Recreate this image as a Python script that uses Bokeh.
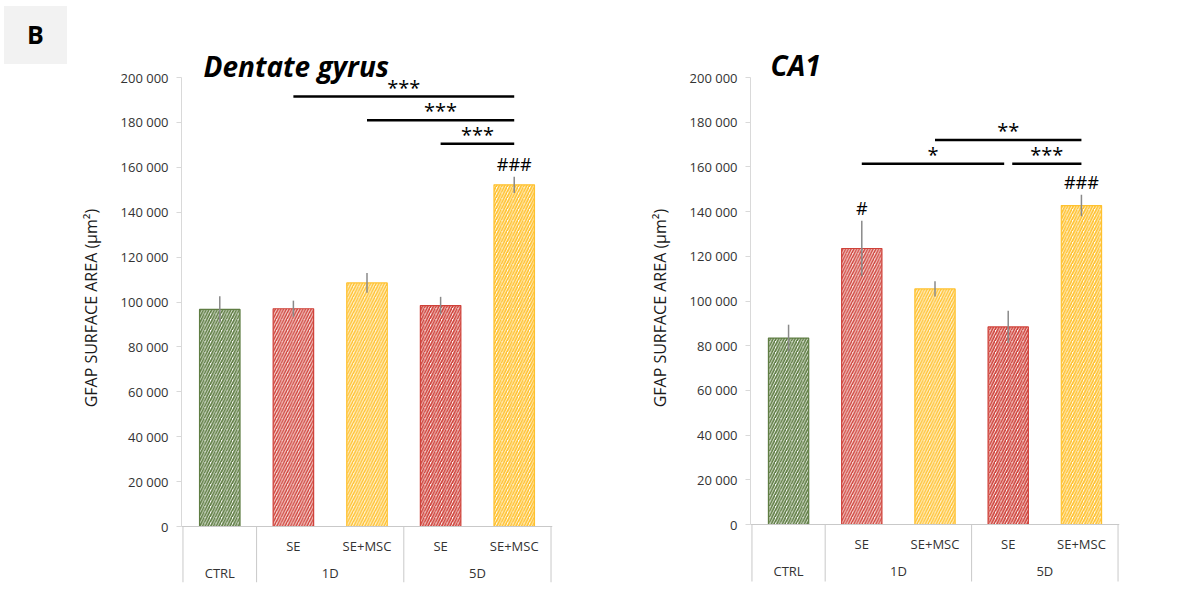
from bokeh.plotting import figure
from bokeh.layouts import row
from bokeh.models import Range1d, FixedTicker, Span, Label, ColumnDataSource, Div
from bokeh.core.properties import value
from bokeh.embed import file_html
from bokeh.resources import INLINE

# ---------------- data ----------------
GROUPS = ["CTRL", "1D", "1D", "5D", "5D"]
TREATMENTS = ["", "SE", "SE+MSC", "SE", "SE+MSC"]
Y_TICKS = [0, 20000, 40000, 60000, 80000, 100000, 120000, 140000, 160000, 180000, 200000]
Y_LABEL = "GFAP SURFACE AREA (µm²)"

DG_MEAN = [96700, 97000, 108500, 98400, 152200]
DG_ERR = [5900, 3600, 4400, 3900, 3600]
DG_HASH = ["", "", "", "", "###"]
DG_SIG_FROM = [1, 2, 3]
DG_SIG_TO = [4, 4, 4]
DG_SIG_TEXT = ["***", "***", "***"]
DG_SIG_LEVEL = [191500, 181000, 170500]

CA1_MEAN = [83400, 123500, 105400, 88400, 142700]
CA1_ERR = [6000, 12400, 3400, 7200, 4800]
CA1_HASH = ["", "#", "", "", "###"]
CA1_SIG_FROM = [2, 1, 3]
CA1_SIG_TO = [4, 3, 4]
CA1_SIG_TEXT = ["**", "*", "***"]
CA1_SIG_LEVEL = [172000, 161400, 161400]

# ---------------- style / layout ----------------
FONT = "Open Sans"
COLORS = {"CTRL": "#5f7d43", "SE": "#cf4139", "SE+MSC": "#ffc12e"}
TINTS = {"CTRL": "#eef2ea", "SE": "#f6d9d6", "SE+MSC": "#fff2d2"}
TABLE = "#c9c9c9"
AXIS = "#d9d9d9"
YMAX = 200000
ORIGIN = 1          # page pixel where the layout starts
FRAME_BOTTOM = 583
HEIGHT = 592
XLO, XHI = -0.02, 5.02
B_WIDTH = 68
LABEL_SHIFT = "\u00a0" * 8   # moves the rotated axis label down to the axis centre

LEFT = dict(canvas_left=ORIGIN + B_WIDTH - 1, width=600 - (ORIGIN + B_WIDTH - 1), axis_px=182,
            ppu_x=73.6, zero_px=527, top_px=78, table_bottom_px=583, title_px=(204, 66.7))
RIGHT = dict(canvas_left=600, width=590, axis_px=751, ppu_x=73.2, zero_px=525, top_px=78,
             table_bottom_px=582, title_px=(771, 65.7))


def panel(title, mean, err, hashes, sig_from, sig_to, sig_text, sig_level, g):
    fw = round((XHI - XLO) * g["ppu_x"])
    ppx = fw / (XHI - XLO)
    ppy = (g["zero_px"] - g["top_px"]) / YMAX
    y_hi = YMAX + (g["top_px"] - ORIGIN) / ppy
    y_lo = -(FRAME_BOTTOM - g["zero_px"]) / ppy

    def X(px):
        return XLO + (px - g["axis_px"]) / ppx

    def Y(py):
        return (g["zero_px"] - py) / ppy

    mbl = g["axis_px"] - g["canvas_left"]
    p = figure(width=g["width"], height=HEIGHT,
               x_range=Range1d(XLO, XHI), y_range=Range1d(y_lo, y_hi),
               x_axis_location=None, output_backend="svg", toolbar_location=None,
               min_border_left=mbl, min_border_right=g["width"] - mbl - fw,
               min_border_top=0, min_border_bottom=HEIGHT - (FRAME_BOTTOM - ORIGIN),
               margin=0)
    p.outline_line_color = None
    p.grid.visible = False
    p.background_fill_color = "white"
    p.border_fill_color = "white"

    ax = p.yaxis[0]
    ax.bounds = (0, YMAX)
    ax.ticker = FixedTicker(ticks=Y_TICKS)
    ax.major_label_overrides = {t: f"{t:,}".replace(",", " ") for t in Y_TICKS}
    ax.minor_tick_line_color = None
    ax.axis_line_color = AXIS
    ax.major_tick_line_color = AXIS
    ax.major_tick_out = 5
    ax.major_tick_in = 0
    ax.major_label_text_font = FONT
    ax.major_label_text_font_size = "13px"
    ax.major_label_text_color = "#333333"
    ax.major_label_standoff = 8
    ax.axis_label = Y_LABEL + LABEL_SHIFT
    ax.axis_label_text_font = FONT
    ax.axis_label_text_font_size = "16px"
    ax.axis_label_text_font_style = "normal"
    ax.axis_label_text_color = "#1a1a1a"
    ax.axis_label_standoff = 16

    n = len(mean)
    xs = [i + 0.5 for i in range(n)]
    cats = [t if t else grp for grp, t in zip(GROUPS, TREATMENTS)]
    early = [grp == "1D" for grp in GROUPS]
    src = ColumnDataSource(dict(
        x=xs, top=mean,
        color=[COLORS[c] for c in cats],
        fill=[TINTS[c] if e else "white" for c, e in zip(cats, early)],
        weight=[1.4 if e else 1.75 for e in early],
    ))
    p.vbar(x="x", top="top", bottom=0, width=0.55, source=src,
           fill_color="fill", line_color="color", line_width=1.2,
           hatch_pattern="right_diagonal_line", hatch_color="color",
           hatch_weight="weight", hatch_scale=5.5)

    # error bars
    p.segment(x0=xs, x1=xs, y0=[m - e for m, e in zip(mean, err)],
              y1=[m + e for m, e in zip(mean, err)],
              line_color="#8a8a8a", line_width=1.5)

    # hash marks
    hx = [x for x, h in zip(xs, hashes) if h]
    hy = [m + e + 12.5 / ppy for m, e, h in zip(mean, err, hashes) if h]
    ht = [h for h in hashes if h]
    p.text(x=hx, y=hy, text=ht, text_align="center", text_baseline="alphabetic",
           text_font=value(FONT), text_font_size="18px", text_color="black")

    # significance lines
    x0s, x1s = [], []
    for a, b, lv in zip(sig_from, sig_to, sig_level):
        start, end = xs[a], xs[b]
        for a2, b2, lv2 in zip(sig_from, sig_to, sig_level):
            if lv2 == lv and (a2, b2) != (a, b):
                if b2 == a:
                    start += 0.055
                if a2 == b:
                    end -= 0.055
        x0s.append(start)
        x1s.append(end)
    p.segment(x0=x0s, x1=x1s, y0=sig_level, y1=sig_level, line_color="black", line_width=2.5)
    p.text(x=[(a + b) / 2 for a, b in zip(x0s, x1s)], y=[lv + 9.5 / ppy for lv in sig_level],
           text=sig_text, text_align="center", text_baseline="alphabetic",
           text_font=value(FONT), text_font_size="20px", text_color="black")

    # category table below the axis
    p.add_layout(Span(location=0, dimension="width", line_color=TABLE, line_width=1))
    bounds = [0] + [i for i in range(1, n) if GROUPS[i] != GROUPS[i - 1]] + [n]
    bx = [min(max(b, XLO + 0.5 / ppx), XHI - 0.5 / ppx) for b in bounds]
    tb = Y(g["table_bottom_px"])
    p.segment(x0=bx, x1=bx, y0=[0] * len(bx), y1=[tb] * len(bx), line_color=TABLE, line_width=1)

    sub_x = [x for x, t in zip(xs, TREATMENTS) if t]
    sub_t = [t for t in TREATMENTS if t]
    p.text(x=sub_x, y=[Y(g["zero_px"] + 19)] * len(sub_x), text=sub_t,
           text_align="center", text_baseline="middle",
           text_font=value(FONT), text_font_size="13px", text_color="#333333")
    gnames = []
    for grp in GROUPS:
        if grp not in gnames:
            gnames.append(grp)
    gx = [sum(x for x, gg in zip(xs, GROUPS) if gg == gn) / GROUPS.count(gn) for gn in gnames]
    p.text(x=gx, y=[Y(g["zero_px"] + 46.5)] * len(gx), text=gnames,
           text_align="center", text_baseline="middle",
           text_font=value(FONT), text_font_size="13px", text_color="#333333")

    # title
    tx, ty = g["title_px"]
    p.add_layout(Label(x=X(tx), y=Y(ty), text=title, text_font=FONT,
                       text_font_style="bold italic", text_font_size="28px",
                       text_align="left", text_baseline="alphabetic", text_color="black"))
    return p


b_box = Div(
    text=('<div style="margin:6px 0 0 4px;width:63px;height:58px;background:#f2f2f2;'
          'display:flex;align-items:center;justify-content:center;'
          "font-family:'Open Sans';font-weight:bold;font-size:25px;color:#000;\">B</div>"),
    width=B_WIDTH - 1, height=HEIGHT, margin=0)

p1 = panel("Dentate gyrus", DG_MEAN, DG_ERR, DG_HASH, DG_SIG_FROM, DG_SIG_TO, DG_SIG_TEXT,
           DG_SIG_LEVEL, LEFT)
p2 = panel("CA1", CA1_MEAN, CA1_ERR, CA1_HASH, CA1_SIG_FROM, CA1_SIG_TO, CA1_SIG_TEXT,
           CA1_SIG_LEVEL, RIGHT)

layout = row(b_box, p1, p2)
open("out.html", "w").write(file_html(layout, INLINE))
